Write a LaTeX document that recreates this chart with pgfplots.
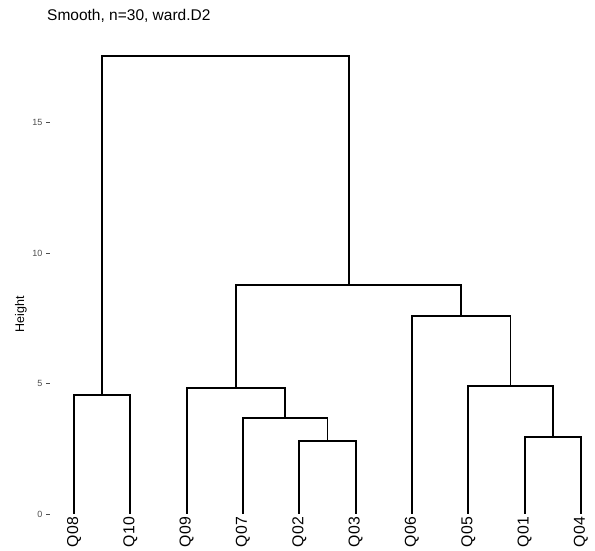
\documentclass[border=0pt]{standalone}
\usepackage{fontspec}
\setmainfont{Liberation Sans}
\usepackage{pgfplots}
\pgfplotsset{compat=1.18}
\definecolor{grey30}{HTML}{4D4D4D}
\tikzset{seg/.style={black, solid, line width=1.9pt, mark=none, line join=miter}}
\begin{document}
\begin{tikzpicture}[x=1pt,y=1pt]
\useasboundingbox (0,0) rectangle (595,551);
\node[anchor=base west, inner sep=0pt, font=\fontsize{15.5}{15.5}\selectfont] at (47,530) {Smooth, n=30, ward.D2};
\node[rotate=90, inner sep=0pt, font=\fontsize{12.5}{12.5}\selectfont] at (21,237) {Height};
\begin{axis}[
  at={(50pt,37pt)}, anchor=south west,
  scale only axis, width=540pt, height=469.8pt,
  xmin=0.574, xmax=10.161, ymin=0, ymax=18,
  clip=false,
  /pgf/number format/assume math mode=true,
  axis line style={draw=none},
  xtick pos=bottom, ytick pos=left,
  tick align=outside, major tick length=4pt,
  xtick={1,...,10},
  xticklabels={Q08,Q10,Q09,Q07,Q02,Q03,Q06,Q05,Q01,Q04},
  xtick style={draw=none},
  ytick={0,5,10,15},
  ytick style={draw=grey30, line width=0.8pt},
  yticklabel style={font=\fontsize{9}{9}\selectfont, text=grey30},
  xticklabel style={rotate=90, anchor=east, inner sep=0pt, font=\fontsize{15.8}{15.8}\selectfont},
  xticklabel shift=-1pt,
]
\addplot[seg] coordinates {(1,0) (1,4.55) (2,4.55) (2,0)};
\addplot[seg] coordinates {(5,0) (5,2.81) (6,2.81) (6,0)};
\addplot[seg] coordinates {(4,0) (4,3.69) (5.5,3.69) (5.5,2.81)};
\addplot[seg] coordinates {(3,0) (3,4.83) (4.75,4.83) (4.75,3.69)};
\addplot[seg] coordinates {(9,0) (9,2.96) (10,2.96) (10,0)};
\addplot[seg] coordinates {(8,0) (8,4.92) (9.5,4.92) (9.5,2.96)};
\addplot[seg] coordinates {(7,0) (7,7.60) (8.75,7.60) (8.75,4.92)};
\addplot[seg] coordinates {(3.875,4.83) (3.875,8.77) (7.875,8.77) (7.875,7.60)};
\addplot[seg] coordinates {(1.5,4.55) (1.5,17.54) (5.875,17.54) (5.875,8.77)};
\end{axis}
\end{tikzpicture}
\end{document}
